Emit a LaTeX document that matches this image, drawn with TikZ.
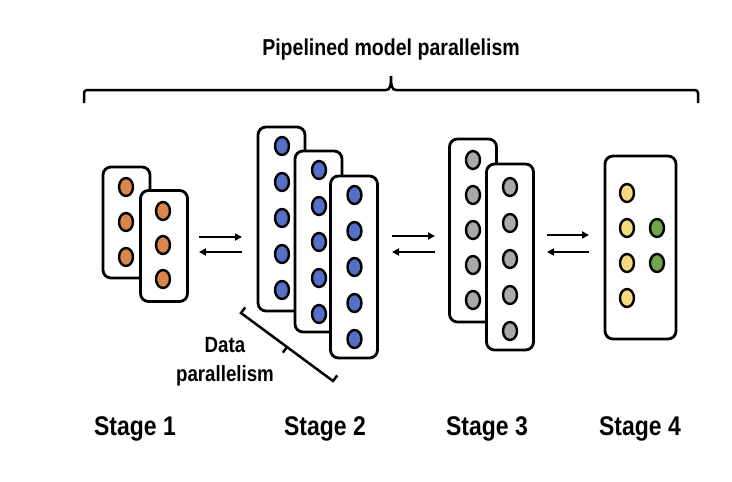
\documentclass[tikz,border=0pt]{standalone}
\usepackage{fontspec}
\setmainfont{Liberation Sans}[FakeStretch=0.85]
\usetikzlibrary{shapes.geometric,arrows.meta}
\definecolor{dotorange}{HTML}{D8864A}
\definecolor{dotblue}{HTML}{5470C6}
\definecolor{dotgray}{HTML}{A9A9A9}
\definecolor{dotyellow}{HTML}{F6DA7E}
\definecolor{dotgreen}{HTML}{6EA84A}
\begin{document}
\begin{tikzpicture}[x=1pt,y=-1pt,
			card/.style={
				rectangle,
				rounded corners=8pt,
				draw,
				fill=white,
				line width=2.8pt,
				minimum width=47pt,
				inner sep=0pt,
			},
			dot/.style={
				ellipse,
				draw,
				line width=2.4pt,
				minimum width=14pt,
				minimum height=18pt,
				inner sep=0pt,
			},
			label/.style={font=\bfseries\fontsize{27}{30}\selectfont},
			ArrowS/.style={% Arrows between stages
				line width=2.5pt,
				-{Triangle[length=7pt,width=7pt]},
			},
			]
				\useasboundingbox (0,0) rectangle (732,482);
				% title and brace
				\node[font=\bfseries\fontsize{23}{26}\selectfont] (title) at (391,50) {Pipelined model parallelism};
				\coordinate (bl) at (84,103);
				\coordinate (br) at (698,103);
				\coordinate (btip) at (391,76);
				\draw[line width=2.5pt, rounded corners=3pt] (bl) -- (84,90) -- (386,90);
				\draw[line width=2.5pt, rounded corners=3pt] (br) -- (698,90) -- (396,90);
				\draw[line width=2.5pt] (386,90) .. controls (390,90) and (391,86) .. (btip) .. controls (391,86) and (392,90) .. (396,90);
				
				% stage 1
				\node[card, minimum height=111pt] (s1a) at (126.5,222.5) {};
				\node[dot, fill=dotorange] (o1a1) at (126,187) {};
				\node[dot, fill=dotorange] (o1a2) at (126,222) {};
				\node[dot, fill=dotorange] (o1a3) at (126,257) {};
				\node[card, minimum height=111pt] (s1b) at (164,246) {};
				\node[dot, fill=dotorange] (o1b1) at (163,211) {};
				\node[dot, fill=dotorange] (o1b2) at (163,245) {};
				\node[dot, fill=dotorange] (o1b3) at (163,279) {};
				
				% stage 2
				\node[card, minimum height=184pt] (s2a) at (281.5,219) {};
				\node[dot, fill=dotblue] (o2a1) at (282,146) {};
				\node[dot, fill=dotblue] (o2a2) at (282,182) {};
				\node[dot, fill=dotblue] (o2a3) at (282,218) {};
				\node[dot, fill=dotblue] (o2a4) at (282,254) {};
				\node[dot, fill=dotblue] (o2a5) at (282,290) {};
				\node[card, minimum height=181pt] (s2b) at (318.5,241.5) {};
				\node[dot, fill=dotblue] (o2b1) at (319,170) {};
				\node[dot, fill=dotblue] (o2b2) at (319,206) {};
				\node[dot, fill=dotblue] (o2b3) at (319,242) {};
				\node[dot, fill=dotblue] (o2b4) at (319,278) {};
				\node[dot, fill=dotblue] (o2b5) at (319,314) {};
				\node[card, minimum height=182pt] (s2c) at (354,267) {};
				\node[dot, fill=dotblue] (o2c1) at (354.5,195) {};
				\node[dot, fill=dotblue] (o2c2) at (354.5,231) {};
				\node[dot, fill=dotblue] (o2c3) at (354.5,267) {};
				\node[dot, fill=dotblue] (o2c4) at (354.5,303) {};
				\node[dot, fill=dotblue] (o2c5) at (354.5,339) {};
				
				% data parallelism bracket
				\coordinate (dp1) at (241,313);
				\coordinate (dp2) at (333,381);
				\coordinate (dpm) at (287,347);
				\draw[line width=2.5pt] (245.2,307.4) -- (dp1) -- (dp2) -- (337.2,375.4);
				\draw[line width=2.5pt] (dpm) -- (282.8,352.6);
				\node[font=\bfseries\fontsize{22}{29}\selectfont, align=center] (dplabel) at (225,362) {Data\\parallelism};
				
				% stage 3
				\node[card, minimum height=183pt] (s3a) at (473,230.5) {};
				\node[dot, fill=dotgray] (o3a1) at (473,160) {};
				\node[dot, fill=dotgray] (o3a2) at (473,195) {};
				\node[dot, fill=dotgray] (o3a3) at (473,230) {};
				\node[dot, fill=dotgray] (o3a4) at (473,265) {};
				\node[dot, fill=dotgray] (o3a5) at (473,300) {};
				\node[card, minimum height=186pt] (s3b) at (510,257) {};
				\node[dot, fill=dotgray] (o3b1) at (510,187) {};
				\node[dot, fill=dotgray] (o3b2) at (510,223) {};
				\node[dot, fill=dotgray] (o3b3) at (510,259) {};
				\node[dot, fill=dotgray] (o3b4) at (510,295) {};
				\node[dot, fill=dotgray] (o3b5) at (510,331) {};
				
				% stage 4
				\node[card, minimum width=71pt, minimum height=183pt] (s4) at (640.5,247.5) {};
				\node[dot, fill=dotyellow] (o4a1) at (627,193) {};
				\node[dot, fill=dotyellow] (o4a2) at (627,228) {};
				\node[dot, fill=dotyellow] (o4a3) at (627,263) {};
				\node[dot, fill=dotyellow] (o4a4) at (627,298) {};
				\node[dot, fill=dotgreen] (o4b1) at (657,228) {};
				\node[dot, fill=dotgreen] (o4b2) at (657,263) {};
				
				% arrows
				\coordinate (a12l) at (199,237);
				\coordinate (a12r) at (242,237);
				\coordinate (b12l) at (199,252);
				\coordinate (b12r) at (242,252);
				\coordinate (a23l) at (392,236);
				\coordinate (a23r) at (435,236);
				\coordinate (b23l) at (392,252);
				\coordinate (b23r) at (435,252);
				\coordinate (a34l) at (547,235);
				\coordinate (a34r) at (589,235);
				\coordinate (b34l) at (547,252);
				\coordinate (b34r) at (589,252);
				\draw[ArrowS] (a12l) -- (a12r);
				\draw[ArrowS] (b12r) -- (b12l);
				\draw[ArrowS] (a23l) -- (a23r);
				\draw[ArrowS] (b23r) -- (b23l);
				\draw[ArrowS] (a34l) -- (a34r);
				\draw[ArrowS] (b34r) -- (b34l);
				
				% stage labels
				\node[label] (l1) at (135,429) {Stage 1};
				\node[label] (l2) at (325,429) {Stage 2};
				\node[label] (l3) at (487,429) {Stage 3};
				\node[label] (l4) at (640,429) {Stage 4};
			\end{tikzpicture}
\end{document}
